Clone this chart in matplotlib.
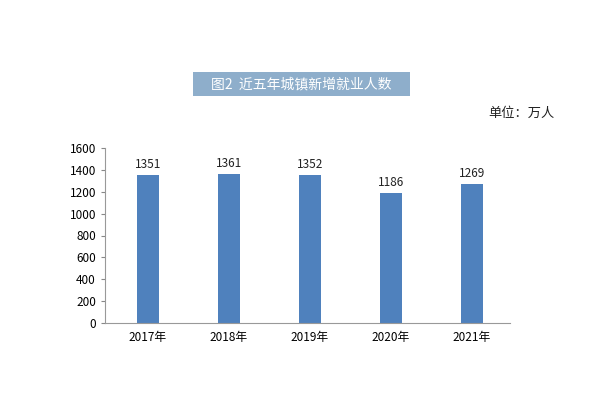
import matplotlib.pyplot as plt
from matplotlib.patches import FancyBboxPatch

plt.rcParams['font.family'] = ['Noto Sans CJK SC', 'DejaVu Sans']

years = ['2017年', '2018年', '2019年', '2020年', '2021年']
values = [1351, 1361, 1352, 1186, 1269]

fig = plt.figure(figsize=(6, 4), dpi=100)
ax = fig.add_axes([105/600, 1-323/400, 405/600, 175/400])

x = range(len(years))
ax.bar(x, values, width=0.27, color='#4f81bd')
for i, v in zip(x, values):
    ax.text(i, v + 40, str(v), ha='center', va='bottom', fontsize=8.5, color='#222222')

ax.set_xlim(-0.53, 4.47)
ax.set_ylim(0, 1600)
ax.set_yticks(range(0, 1601, 200))
ax.set_xticks(list(x))
ax.set_xticklabels(years, fontsize=8.5)
ax.tick_params(axis='y', labelsize=8.5, length=3, color='#888888')
ax.tick_params(axis='x', length=0, pad=6)
for s in ['top', 'right']:
    ax.spines[s].set_visible(False)
for s in ['left', 'bottom']:
    ax.spines[s].set_color('#999999')

fig.patches.append(FancyBboxPatch((193/600, 1-96/400), 217/600, 24/400, boxstyle='square,pad=0',
                                  transform=fig.transFigure, facecolor='#8eaecb', edgecolor='none'))
fig.text(301/600, 1-84/400, '图2  近五年城镇新增就业人数', ha='center', va='center', fontsize=10, color='white')
fig.text(555/600, 1-113/400, '单位：万人', ha='right', va='center', fontsize=9.5, color='#222222')

fig.savefig('out.png')
